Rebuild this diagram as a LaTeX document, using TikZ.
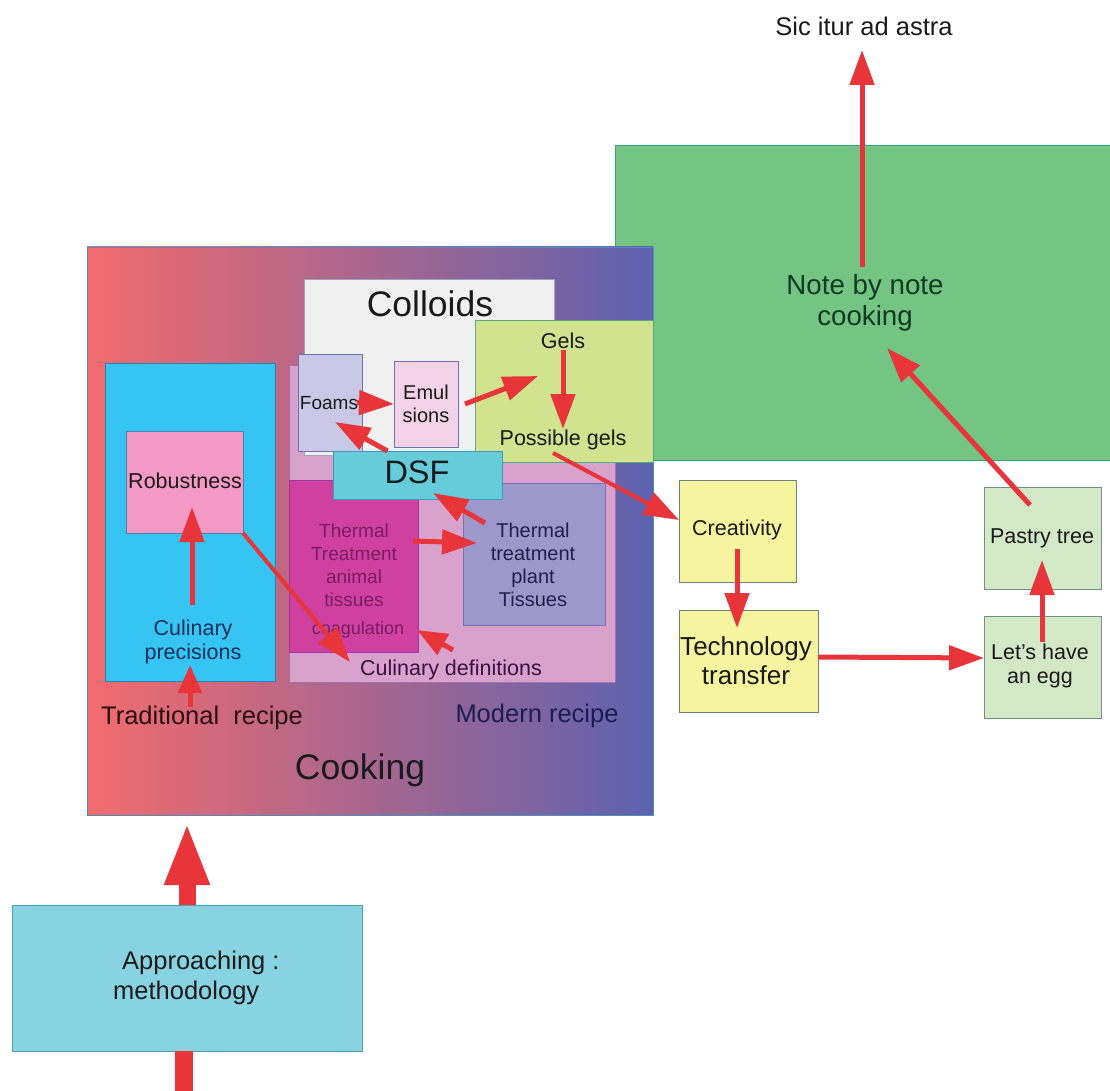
\documentclass[tikz,border=0pt]{standalone}
\usepackage{fontspec}
\setmainfont{Liberation Sans}
\usetikzlibrary{arrows.meta}
\definecolor{arrowred}{HTML}{E8353A}
\definecolor{cookL}{HTML}{F26B6E}
\definecolor{cookR}{HTML}{5D62AF}
\definecolor{cookB}{HTML}{4A90B8}
\definecolor{nbn}{HTML}{74C483}
\definecolor{nbnB}{HTML}{3B9E80}
\definecolor{coll}{HTML}{F0F0F0}
\definecolor{collB}{HTML}{A0A0C0}
\definecolor{pdef}{HTML}{D9A2CC}
\definecolor{pdefB}{HTML}{A070B0}
\definecolor{foamc}{HTML}{C9C8E6}
\definecolor{foamB}{HTML}{7070B0}
\definecolor{emulc}{HTML}{F2D2E6}
\definecolor{gelc}{HTML}{D1E38E}
\definecolor{gelB}{HTML}{5AAA80}
\definecolor{dsfc}{HTML}{66CBDB}
\definecolor{dsfB}{HTML}{3A9AB8}
\definecolor{animc}{HTML}{CF40A0}
\definecolor{animB}{HTML}{9A3AA0}
\definecolor{plantc}{HTML}{9C98CB}
\definecolor{plantB}{HTML}{7A70B8}
\definecolor{cyanc}{HTML}{36C4F2}
\definecolor{cyanB}{HTML}{2A80B0}
\definecolor{robc}{HTML}{F49AC4}
\definecolor{robB}{HTML}{5080B0}
\definecolor{yel}{HTML}{F7F4A0}
\definecolor{yelB}{HTML}{708080}
\definecolor{pgr}{HTML}{D3E8C6}
\definecolor{pgrB}{HTML}{709080}
\definecolor{appc}{HTML}{88D3E2}
\definecolor{appB}{HTML}{50A0B0}
\definecolor{txt}{HTML}{1A1A1A}
\definecolor{txtgreen}{HTML}{0E3B22}
\definecolor{txtanim}{HTML}{7A1C60}
\definecolor{txtplant}{HTML}{20204A}
\definecolor{txtdef}{HTML}{3A1040}
\definecolor{txtprec}{HTML}{15305A}
\definecolor{txtmod}{HTML}{1C1C50}
\definecolor{txttrad}{HTML}{2A0E10}
\begin{document}
\begin{tikzpicture}[x=1pt,y=-1pt,
  box/.style={rectangle, draw, line width=0.8pt, inner sep=0pt, outer sep=0pt, anchor=north west},
  lbl/.style={inner sep=0pt, align=center, text=txt},
  sm/.style={font=\fontsize{21.5}{24}\selectfont},
  md/.style={font=\fontsize{25.5}{29}\selectfont},
  lg/.style={font=\fontsize{35.5}{39}\selectfont},
  arr/.style={draw=arrowred, line width=5pt, -{Triangle[width=24pt,length=35pt]}},
  bigarr/.style={draw=arrowred, line width=17pt, -{Triangle[width=41pt,length=63pt]}},
]
\useasboundingbox (0,0) rectangle (1110,1091);
% boxes
\node[box, fill=nbn, draw=nbnB, minimum width=520pt, minimum height=315pt] (nbnbox) at (615,145) {};
\node[box, left color=cookL, right color=cookR, draw=cookB, minimum width=566pt, minimum height=568pt] (cook) at (87,247) {};
\node[box, fill=cyanc, draw=cyanB, minimum width=170pt, minimum height=318pt] (trad) at (105,363) {};
\node[box, fill=robc, draw=robB, minimum width=117pt, minimum height=102pt] (robust) at (126,431) {};
\node[box, fill=pdef, draw=pdefB, minimum width=326pt, minimum height=317pt] (defs) at (289,365) {};
\node[box, fill=coll, draw=collB, minimum width=250pt, minimum height=176pt] (coll) at (304,279) {};
\node[box, fill=foamc, draw=foamB, minimum width=64pt, minimum height=97pt] (foams) at (298,354) {};
\node[box, fill=emulc, draw=foamB, minimum width=64pt, minimum height=86pt] (emul) at (394,361) {};
\node[box, fill=gelc, draw=gelB, minimum width=178pt, minimum height=142pt] (gels) at (475,320) {};
\node[box, fill=animc, draw=animB, minimum width=129pt, minimum height=172pt] (anim) at (289,480) {};
\node[box, fill=plantc, draw=plantB, minimum width=142pt, minimum height=142pt] (plant) at (463,483) {};
\node[box, fill=dsfc, draw=dsfB, minimum width=169pt, minimum height=48pt] (dsf) at (333,451) {};
\node[box, fill=yel, draw=yelB, minimum width=117pt, minimum height=102pt] (creat) at (679,480) {};
\node[box, fill=yel, draw=yelB, minimum width=139pt, minimum height=102pt] (tech) at (679,610) {};
\node[box, fill=pgr, draw=pgrB, minimum width=117pt, minimum height=102pt] (pastry) at (984,487) {};
\node[box, fill=pgr, draw=pgrB, minimum width=117pt, minimum height=102pt] (egg) at (984,616) {};
\node[box, fill=appc, draw=appB, minimum width=350pt, minimum height=146pt] (appr) at (12,905) {};
% labels
\node[lbl, md] (sic) at (864,26) {Sic itur ad astra};
\node[lbl, text=txtgreen, font=\fontsize{27.7}{31}\selectfont] (nbnt) at (865,303) {Note by note\\cooking};
\node[lbl, lg] (collt) at (430,304) {Colloids};
\node[lbl, sm] (gelst) at (563,341) {Gels};
\node[lbl, sm] (pgels) at (563,440) {Possible gels};
\node[lbl, font=\fontsize{19}{22}\selectfont] (foamt) at (329,403) {Foams};
\node[lbl, font=\fontsize{20}{23}\selectfont] (emult) at (426,404) {Emul\\sions};
\node[lbl, font=\fontsize{32.5}{35}\selectfont] (dsft) at (417,472) {DSF};
\node[lbl, text=txtanim, font=\fontsize{19}{23}\selectfont] (animt) at (354,565) {Thermal\\Treatment\\animal\\tissues};
\node[lbl, text=txtanim, font=\fontsize{18}{21}\selectfont] (coag) at (358,630) {coagulation};
\node[lbl, text=txtplant, font=\fontsize{20}{23}\selectfont] (plantt) at (533,565) {Thermal\\treatment\\plant\\Tissues};
\node[lbl, sm, text=txtdef] (cdef) at (451,670) {Culinary definitions};
\node[lbl, sm] (robt) at (185,481) {Robustness};
\node[lbl, sm, text=txtprec] (prec) at (193,642) {Culinary\\precisions};
\node[lbl, md, text=txttrad] (tradt) at (202,718) {Traditional\ \ recipe};
\node[lbl, md, text=txtmod] (modt) at (537,716) {Modern recipe};
\node[lbl, lg] (cookt) at (360,770) {Cooking};
\node[lbl, sm] (creatt) at (737,530) {Creativity};
\node[lbl, font=\fontsize{26}{29}\selectfont] (techt) at (746,661) {Technology\\transfer};
\node[lbl, sm] (pastryt) at (1042,538) {Pastry tree};
\node[lbl, sm] (eggt) at (1040,666) {Let's have\\an egg};
\node[lbl, align=left, anchor=west, font=\fontsize{25.5}{30}\selectfont] (apprt) at (113,978) {\hspace*{9pt}Approaching :\\methodology};
% free-end coordinates
\coordinate (pagebottom) at (183.5,1096);
\coordinate (precup) at (190,707);
\coordinate (prectip) at (190,665);
\coordinate (robfrom) at (192,605);
\coordinate (robtip) at (192,507);
\coordinate (deftip) at (350,662);
\coordinate (foamtip) at (335,422);
\coordinate (geltip) at (538,376);
\coordinate (gelfrom) at (563,350);
\coordinate (pgeltip) at (563,429);
\coordinate (pgelfrom) at (553,453);
\coordinate (plantfrom) at (485,523);
\coordinate (dsftip) at (433,493);
\coordinate (animfrom) at (413,541);
\coordinate (planttip) at (477,543);
\coordinate (coagfrom) at (453,650);
\coordinate (coagtip) at (417,630);
\coordinate (creatfrom) at (737,549);
\coordinate (techtip) at (737,628);
\coordinate (eggfrom) at (1042,642);
\coordinate (pastrytip) at (1042,560);
\coordinate (pastryfrom) at (1030,505);
\coordinate (nbntip) at (887,348);
\coordinate (nbnfrom) at (862,267);
\coordinate (sictip) at (862,50);
% arrows
\draw[draw=arrowred, line width=18pt] (pagebottom) -- ([xshift=-3.5pt]appr.south);
\draw[bigarr] (appr.north) -- ([yshift=-7pt]appr.north |- cook.south);
\draw[arr, -{Triangle[width=23pt,length=28pt]}] (precup) -- (prectip);
\draw[arr] (robfrom) -- (robtip);
\draw[arr, line width=4pt] (robust.south east) -- (deftip);
\draw[arr] ([xshift=-5pt]foams.east) -- (emul.west);
\draw[arr] ([xshift=-30pt]dsf.north) -- (foamtip);
\draw[arr] ([xshift=7pt]emul.east) -- (geltip);
\draw[arr] (gelfrom) -- (pgeltip);
\draw[arr, line width=4pt] (pgelfrom) -- ([yshift=11pt]creat.west);
\draw[arr] (plantfrom) -- (dsftip);
\draw[arr] (animfrom) -- (planttip);
\draw[arr, -{Triangle[width=23pt,length=30pt]}] (coagfrom) -- (coagtip);
\draw[arr] (creatfrom) -- (techtip);
\draw[arr] ([yshift=4pt]tech.east) -- ([yshift=9pt]egg.west);
\draw[arr] (eggfrom) -- (pastrytip);
\draw[arr] (pastryfrom) -- (nbntip);
\draw[arr] (nbnfrom) -- (sictip);
\end{tikzpicture}
\end{document}
